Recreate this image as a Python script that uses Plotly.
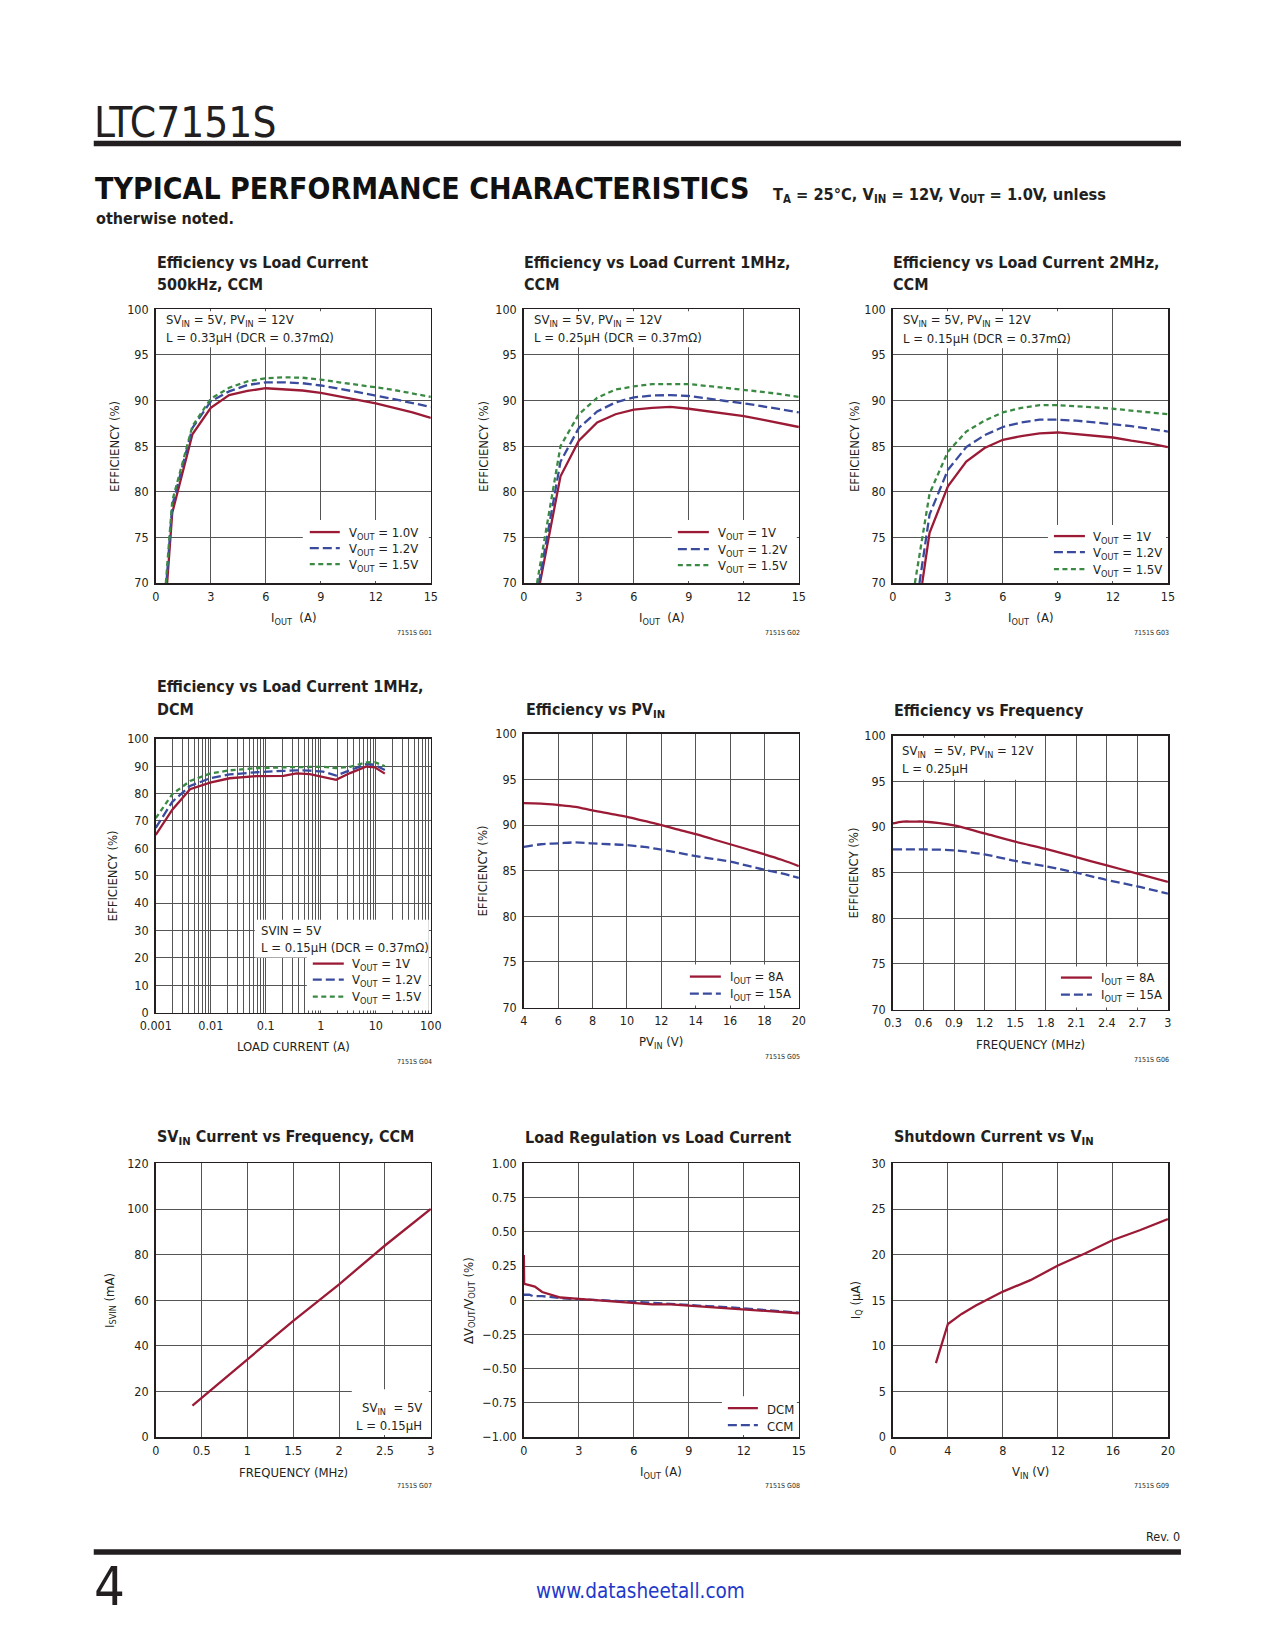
import plotly.graph_objects as go

# page is 1275x1650; default body margin of 8px is kept, figure fills the rest
PAGE_W, PAGE_H = 1275, 1650
OFF = 8
FW, FH = PAGE_W - 2 * OFF, 1630
# mapping from reference-picture pixels to page pixels (measured calibration)
KX, BX = 1.0221, -16.8
KY, BY = 1.0082, -7.5
FONT = "DejaVu Sans Condensed, Liberation Sans, sans-serif"
INK = "#231f20"
RED = "#9b1b36"
BLUE = "#3a4b9e"
GREEN = "#3b8a44"
GRID = "#555555"

# ---------------- data ----------------
g01_v10_x = [0.62, 0.9, 2, 3, 4, 5, 6, 7, 8, 9, 10, 11, 12, 13, 14, 15]
g01_v10_y = [70, 77.7, 86.3, 89.2, 90.6, 91.05, 91.35, 91.25, 91.1, 90.85, 90.45, 90.1, 89.7, 89.2, 88.7, 88.1]
g01_v12_x = [0.58, 0.9, 2, 3, 4, 5, 6, 7, 8, 9, 10, 11, 12, 13, 14, 15]
g01_v12_y = [70, 78.5, 87.0, 89.9, 91.0, 91.7, 92.0, 92.0, 91.9, 91.65, 91.3, 90.95, 90.55, 90.15, 89.75, 89.3]
g01_v15_x = [0.55, 0.9, 2, 3, 4, 5, 6, 7, 8, 9, 10, 11, 12, 13, 14, 15]
g01_v15_y = [70, 79.0, 87.2, 90.2, 91.4, 92.1, 92.45, 92.55, 92.5, 92.3, 92.0, 91.75, 91.45, 91.15, 90.8, 90.4]

g02_v10_x = [0.88, 2, 3, 4, 5, 6, 7, 8, 9, 10, 11, 12, 13, 14, 15]
g02_v10_y = [70, 81.7, 85.6, 87.6, 88.5, 89.0, 89.2, 89.3, 89.1, 88.85, 88.6, 88.3, 87.9, 87.5, 87.1]
g02_v12_x = [0.82, 2, 3, 4, 5, 6, 7, 8, 9, 10, 11, 12, 13, 14, 15]
g02_v12_y = [70, 83.3, 87.0, 88.8, 89.8, 90.35, 90.55, 90.6, 90.5, 90.2, 89.95, 89.7, 89.4, 89.05, 88.7]
g02_v15_x = [0.72, 2, 3, 4, 5, 6, 7, 8, 9, 10, 11, 12, 13, 14, 15]
g02_v15_y = [70, 85.0, 88.5, 90.3, 91.2, 91.55, 91.8, 91.8, 91.8, 91.6, 91.4, 91.15, 90.95, 90.7, 90.4]

g03_v10_x = [1.6, 2, 3, 4, 5, 6, 7, 8, 9, 10, 11, 12, 13, 14, 15]
g03_v10_y = [70, 75.5, 80.6, 83.3, 84.8, 85.7, 86.1, 86.4, 86.5, 86.3, 86.1, 85.95, 85.6, 85.3, 84.9]
g03_v12_x = [1.45, 2, 3, 4, 5, 6, 7, 8, 9, 10, 11, 12, 13, 14, 15]
g03_v12_y = [70, 77.5, 82.4, 84.9, 86.2, 87.1, 87.6, 87.9, 87.9, 87.8, 87.6, 87.4, 87.2, 86.9, 86.6]
g03_v15_x = [1.2, 2, 3, 4, 5, 6, 7, 8, 9, 10, 11, 12, 13, 14, 15]
g03_v15_y = [70, 79.8, 84.4, 86.6, 87.8, 88.7, 89.2, 89.5, 89.5, 89.4, 89.25, 89.1, 88.9, 88.7, 88.5]

g04_x = [0.001, 0.002, 0.0042, 0.0097, 0.022, 0.068, 0.21, 0.36, 0.63, 1.1, 1.9, 3.4, 6.8, 9.6, 14.6]
g04_v10_y = [64.9, 74.1, 81.6, 84.0, 85.6, 86.4, 86.5, 87.4, 87.1, 86.0, 85.0, 87.5, 89.9, 89.6, 87.3]
g04_v12_y = [67.5, 77.0, 82.8, 85.6, 87.0, 87.8, 88.3, 88.5, 88.4, 88.0, 86.6, 88.4, 90.8, 90.5, 88.6]
g04_v15_y = [71.0, 79.8, 84.6, 87.3, 88.5, 89.3, 89.6, 89.7, 89.8, 89.8, 89.3, 89.8, 91.4, 91.5, 90.0]

g05_x = [4, 5, 6, 7, 8, 9, 10, 11, 12, 13, 14, 15, 16, 17, 18, 19, 20]
g05_i8_y = [92.4, 92.35, 92.2, 92.0, 91.6, 91.25, 90.9, 90.45, 90.0, 89.5, 89.0, 88.45, 87.9, 87.35, 86.8, 86.2, 85.5]
g05_i15_y = [87.6, 87.9, 88.0, 88.1, 88.0, 87.9, 87.8, 87.6, 87.3, 86.95, 86.6, 86.3, 86.0, 85.55, 85.1, 84.7, 84.2]

g06_x = [0.3, 0.4, 0.5, 0.6, 0.9, 1.2, 1.5, 1.8, 2.1, 2.4, 2.7, 3.0]
g06_i8_y = [90.4, 90.6, 90.6, 90.6, 90.2, 89.3, 88.4, 87.6, 86.7, 85.8, 84.9, 84.0]
g06_i15_y = [87.55, 87.55, 87.55, 87.55, 87.45, 87.0, 86.3, 85.7, 85.0, 84.2, 83.5, 82.7]

g07_x = [0.4, 0.5, 1.0, 1.5, 2.0, 2.5, 3.0]
g07_y = [13.8, 17.2, 34.0, 51.0, 67.0, 84.0, 100.0]

g08_dcm_x = [0.0, 0.02, 0.3, 0.6, 1.0, 1.5, 2.0, 3.0, 4.0, 5.0, 6.0, 7.0, 8.0, 9.0, 10.0, 11.0, 12.0, 13.0, 14.0, 15.0]
g08_dcm_y = [0.33, 0.12, 0.11, 0.10, 0.06, 0.04, 0.02, 0.01, 0.0, -0.01, -0.023, -0.03, -0.03, -0.04, -0.05, -0.058, -0.067, -0.075, -0.085, -0.095]
g08_ccm_x = [0.0, 0.3, 0.5, 1.0, 2.0, 3.0, 4.0, 5.0, 6.0, 7.0, 8.0, 9.0, 10.0, 11.0, 12.0, 13.0, 14.0, 15.0]
g08_ccm_y = [0.04, 0.04, 0.03, 0.03, 0.015, 0.01, 0.0, -0.005, -0.011, -0.02, -0.028, -0.035, -0.043, -0.05, -0.06, -0.07, -0.08, -0.09]

g09_x = [3.13, 4, 5, 6, 8, 10, 12, 14, 16, 18, 20]
g09_y = [8.1, 12.4, 13.5, 14.4, 15.95, 17.2, 18.8, 20.15, 21.6, 22.7, 23.9]

# ---------------- tick labels ----------------
eff_ticks = [70, 75, 80, 85, 90, 95, 100]
iout_ticks = [0, 3, 6, 9, 12, 15]
dcm_y_ticks = [0, 10, 20, 30, 40, 50, 60, 70, 80, 90, 100]
dcm_x_ticks = [0.001, 0.01, 0.1, 1, 10, 100]
dcm_x_text = ["0.001", "0.01", "0.1", "1", "10", "100"]
pvin_ticks = [4, 6, 8, 10, 12, 14, 16, 18, 20]
freq_ticks = [0.3, 0.6, 0.9, 1.2, 1.5, 1.8, 2.1, 2.4, 2.7, 3.0]
freq_text = ["0.3", "0.6", "0.9", "1.2", "1.5", "1.8", "2.1", "2.4", "2.7", "3"]
svin_x_ticks = [0, 0.5, 1, 1.5, 2, 2.5, 3]
svin_x_text = ["0", "0.5", "1", "1.5", "2", "2.5", "3"]
svin_y_ticks = [0, 20, 40, 60, 80, 100, 120]
lr_y_ticks = [-1, -0.75, -0.5, -0.25, 0, 0.25, 0.5, 0.75, 1]
lr_y_text = ["\u22121.00", "\u22120.75", "\u22120.50", "\u22120.25", "0", "0.25", "0.50", "0.75", "1.00"]
sd_x_ticks = [0, 4, 8, 12, 16, 20]
sd_y_ticks = [0, 5, 10, 15, 20, 25, 30]


def px(x):
    return (KX * x + BX - OFF) / FW


def py(y):
    return 1 - (KY * y + BY - OFF) / FH


fig = go.Figure()
annotations = []
shapes = []
layout_axes = {}


def txt(x, y, s, size, xanchor="left", yanchor="middle", bold=False, color=INK, angle=0, family=FONT):
    annotations.append(dict(
        x=px(x), y=py(y), xref="paper", yref="paper", text=("<b>%s</b>" % s) if bold else s,
        showarrow=False, xanchor=xanchor, yanchor=yanchor, textangle=angle,
        font=dict(family=family, size=size, color=color), borderpad=0))


def rect(x0, y0, x1, y1, color="white"):
    shapes.append(dict(type="rect", xref="paper", yref="paper", x0=px(x0), x1=px(x1), y0=py(y0), y1=py(y1),
                       fillcolor=color, line=dict(width=0), layer="above"))


def hline(x0, x1, y, color, width, dash="solid"):
    shapes.append(dict(type="line", xref="paper", yref="paper", x0=px(x0), x1=px(x1), y0=py(y), y1=py(y),
                       line=dict(color=color, width=width, dash=dash), layer="above"))


def axes(i, box, xrange, xvals, xtext, yrange, yvals, ytext, xtype="linear", xminor=None):
    x0, x1, y0, y1 = box
    common = dict(showline=True, mirror=True, linecolor=INK, linewidth=1.6, showgrid=True, gridcolor=GRID,
                  gridwidth=1, zeroline=False, ticks="", fixedrange=True,
                  tickfont=dict(family=FONT, size=12.5, color=INK), tickmode="array")
    xk = "xaxis" if i == 1 else "xaxis%d" % i
    yk = "yaxis" if i == 1 else "yaxis%d" % i
    xa = dict(domain=[px(x0), px(x1)], range=xrange, tickvals=xvals, ticktext=xtext, type=xtype,
              anchor="y" if i == 1 else "y%d" % i, ticklabelstandoff=1, **common)
    if xminor is not None:
        xa["minor"] = dict(tickmode="array", tickvals=xminor, showgrid=True, gridcolor=GRID, gridwidth=1, ticks="")
    layout_axes[xk] = xa
    layout_axes[yk] = dict(domain=[py(y1), py(y0)], range=yrange, tickvals=yvals, ticktext=ytext,
                           anchor="x" if i == 1 else "x%d" % i, ticklabelstandoff=3, **common)


def line(i, x, y, color, dash="solid", shape="linear", width=2.3):
    fig.add_trace(go.Scatter(x=x, y=y, mode="lines", line=dict(color=color, width=width, dash=dash, shape=shape),
                             xaxis="x" if i == 1 else "x%d" % i, yaxis="y" if i == 1 else "y%d" % i,
                             showlegend=False, hoverinfo="skip"))


DASH_B = "9px,4px"
DASH_G = "5px,3.5px"
LT = 13


def legend_item(x0, x1, y, color, dash, label, tx):
    hline(x0, x1, y, color, 2.3, dash)
    txt(tx, y + 1, label, LT)


C = [(156, 431), (524, 799), (893, 1168)]
B1 = [(C[0][0], C[0][1], 309, 583), (C[1][0], C[1][1], 309, 583), (C[2][0], C[2][1], 309, 583)]
B2 = [(C[0][0], C[0][1], 739, 1013), (C[1][0], C[1][1], 734, 1008), (C[2][0], C[2][1], 736, 1010)]
B3 = [(C[0][0], C[0][1], 1164, 1438), (C[1][0], C[1][1], 1164, 1438), (C[2][0], C[2][1], 1164, 1438)]

VO = "V<sub>OUT</sub>"
IO = "I<sub>OUT</sub>"

axes(1, B1[0], [0, 15], iout_ticks, [str(v) for v in iout_ticks], [70, 100], eff_ticks, [str(v) for v in eff_ticks])
line(1, g01_v10_x, g01_v10_y, RED)
line(1, g01_v12_x, g01_v12_y, BLUE, DASH_B)
line(1, g01_v15_x, g01_v15_y, GREEN, DASH_G)
axes(2, B1[1], [0, 15], iout_ticks, [str(v) for v in iout_ticks], [70, 100], eff_ticks, [str(v) for v in eff_ticks])
line(2, g02_v10_x, g02_v10_y, RED)
line(2, g02_v12_x, g02_v12_y, BLUE, DASH_B)
line(2, g02_v15_x, g02_v15_y, GREEN, DASH_G)
axes(3, B1[2], [0, 15], iout_ticks, [str(v) for v in iout_ticks], [70, 100], eff_ticks, [str(v) for v in eff_ticks])
line(3, g03_v10_x, g03_v10_y, RED)
line(3, g03_v12_x, g03_v12_y, BLUE, DASH_B)
line(3, g03_v15_x, g03_v15_y, GREEN, DASH_G)
minor_vals = [m * d for d in [0.001, 0.01, 0.1, 1, 10] for m in [2, 3, 4, 5, 6, 7, 8, 9]]
axes(4, B2[0], [-3, 2], dcm_x_ticks, dcm_x_text, [0, 100], dcm_y_ticks, [str(v) for v in dcm_y_ticks],
     xtype="log", xminor=minor_vals)
line(4, g04_x, g04_v10_y, RED)
line(4, g04_x, g04_v12_y, BLUE, DASH_B)
line(4, g04_x, g04_v15_y, GREEN, DASH_G)
axes(5, B2[1], [4, 20], pvin_ticks, [str(v) for v in pvin_ticks], [70, 100], eff_ticks, [str(v) for v in eff_ticks])
line(5, g05_x, g05_i8_y, RED, shape="spline")
line(5, g05_x, g05_i15_y, BLUE, DASH_B, shape="spline")
axes(6, B2[2], [0.3, 3.0], freq_ticks, freq_text, [70, 100], eff_ticks, [str(v) for v in eff_ticks])
line(6, g06_x, g06_i8_y, RED, shape="spline")
line(6, g06_x, g06_i15_y, BLUE, DASH_B, shape="spline")
axes(7, B3[0], [0, 3], svin_x_ticks, svin_x_text, [0, 120], svin_y_ticks, [str(v) for v in svin_y_ticks])
line(7, g07_x, g07_y, RED)
axes(8, B3[1], [0, 15], iout_ticks, [str(v) for v in iout_ticks], [-1, 1], lr_y_ticks, lr_y_text)
line(8, g08_ccm_x, g08_ccm_y, BLUE, DASH_B)
line(8, g08_dcm_x, g08_dcm_y, RED)
axes(9, B3[2], [0, 20], sd_x_ticks, [str(v) for v in sd_x_ticks], [0, 30], sd_y_ticks, [str(v) for v in sd_y_ticks])
line(9, g09_x, g09_y, RED)

# white boxes behind notes / legends
rect(158, 311, 330, 347)
rect(303, 520, 429, 581)
rect(526, 311, 698, 347)
rect(672, 520, 797, 581)
rect(895, 311, 1068, 348)
rect(1048, 525, 1166, 581)
rect(255, 920, 429, 958)
rect(307, 957, 429, 1011)
rect(684, 965, 797, 1006)
rect(895, 738, 1030, 780)
rect(1054, 967, 1166, 1008)
rect(352, 1390, 429, 1436)
rect(722, 1397, 797, 1436)

NT = 13
SV = "SV<sub>IN</sub> = 5V, PV<sub>IN</sub> = 12V"
txt(165, 320, SV, NT)
txt(165, 337, "L = 0.33\u00b5H (DCR = 0.37m\u03a9)", NT)
legend_item(310, 340, 532, RED, "solid", VO + " = 1.0V", 348)
legend_item(310, 340, 548, BLUE, DASH_B, VO + " = 1.2V", 348)
legend_item(310, 340, 564, GREEN, DASH_G, VO + " = 1.5V", 348)

txt(533, 320, SV, NT)
txt(533, 337, "L = 0.25\u00b5H (DCR = 0.37m\u03a9)", NT)
legend_item(678, 709, 532, RED, "solid", VO + " = 1V", 717)
legend_item(678, 709, 549, BLUE, DASH_B, VO + " = 1.2V", 717)
legend_item(678, 709, 565, GREEN, DASH_G, VO + " = 1.5V", 717)

txt(902, 320, SV, NT)
txt(902, 338, "L = 0.15\u00b5H (DCR = 0.37m\u03a9)", NT)
legend_item(1054, 1085, 536, RED, "solid", VO + " = 1V", 1092)
legend_item(1054, 1085, 552, BLUE, DASH_B, VO + " = 1.2V", 1092)
legend_item(1054, 1085, 569, GREEN, DASH_G, VO + " = 1.5V", 1092)

txt(260, 931, "SVIN = 5V", NT)
txt(260, 948, "L = 0.15\u00b5H (DCR = 0.37m\u03a9)", NT)
legend_item(313, 344, 964, RED, "solid", VO + " = 1V", 351)
legend_item(313, 344, 980, BLUE, DASH_B, VO + " = 1.2V", 351)
legend_item(313, 344, 997, GREEN, DASH_G, VO + " = 1.5V", 351)

legend_item(690, 721, 977, RED, "solid", IO + " = 8A", 729)
legend_item(690, 721, 994, BLUE, DASH_B, IO + " = 15A", 729)

txt(901, 752, "SV<sub>IN</sub>  = 5V, PV<sub>IN</sub> = 12V", NT)
txt(901, 769, "L = 0.25\u00b5H", NT)
legend_item(1061, 1092, 978, RED, "solid", IO + " = 8A", 1100)
legend_item(1061, 1092, 995, BLUE, DASH_B, IO + " = 15A", 1100)

txt(423, 1409, "SV<sub>IN</sub>  = 5V", NT, xanchor="right")
txt(423, 1426, "L = 0.15\u00b5H", NT, xanchor="right")

legend_item(728, 758, 1409, RED, "solid", "DCM", 766)
legend_item(728, 758, 1426, BLUE, DASH_B, "CCM", 766)

TS = 16
txt(156, 262, "Efficiency vs Load Current", TS, bold=True)
txt(156, 284, "500kHz, CCM", TS, bold=True)
txt(523, 262, "Efficiency vs Load Current 1MHz,", TS, bold=True)
txt(523, 284, "CCM", TS, bold=True)
txt(892, 262, "Efficiency vs Load Current 2MHz,", TS, bold=True)
txt(892, 284, "CCM", TS, bold=True)
txt(156, 687, "Efficiency vs Load Current 1MHz,", TS, bold=True)
txt(156, 710, "DCM", TS, bold=True)
txt(525, 711, "Efficiency vs PV<sub>IN</sub>", TS, bold=True)
txt(893, 711, "Efficiency vs Frequency", TS, bold=True)
txt(156, 1138, "SV<sub>IN</sub> Current vs Frequency, CCM", TS, bold=True)
txt(524, 1138, "Load Regulation vs Load Current", TS, bold=True)
txt(893, 1138, "Shutdown Current vs V<sub>IN</sub>", TS, bold=True)

AT = 13
for (x0, x1, y0, y1), ytx, xt, yt, xlab, ylab in [
    (B1[0], 114, 619, 446, IO + "  (A)", "EFFICIENCY (%)"),
    (B1[1], 483, 619, 446, IO + "  (A)", "EFFICIENCY (%)"),
    (B1[2], 854, 619, 446, IO + "  (A)", "EFFICIENCY (%)"),
    (B2[0], 113, 1047, 876, "LOAD CURRENT (A)", "EFFICIENCY (%)"),
    (B2[1], 483, 1043, 871, "PV<sub>IN</sub> (V)", "EFFICIENCY (%)"),
    (B2[2], 854, 1045, 873, "FREQUENCY (MHz)", "EFFICIENCY (%)"),
    (B3[0], 110, 1473, 1301, "FREQUENCY (MHz)", "I<sub>SVIN</sub> (mA)"),
    (B3[1], 469, 1473, 1301, IO + " (A)", "\u0394V<sub>OUT</sub>/V<sub>OUT</sub> (%)"),
    (B3[2], 856, 1473, 1301, "V<sub>IN</sub> (V)", "I<sub>Q</sub> (\u00b5A)"),
]:
    txt((x0 + x1) / 2, xt, xlab, AT, xanchor="center")
    txt(ytx, yt, ylab, AT, xanchor="center", angle=-90)

for (x0, x1, y0, y1), yc, code in [
    (B1[0], 633, "7151S G01"), (B1[1], 633, "7151S G02"), (B1[2], 633, "7151S G03"),
    (B2[0], 1063, "7151S G04"), (B2[1], 1057, "7151S G05"), (B2[2], 1060, "7151S G06"),
    (B3[0], 1487, "7151S G07"), (B3[1], 1487, "7151S G08"), (B3[2], 1487, "7151S G09"),
]:
    txt(x1 + 2, yc, code, 7, xanchor="right")

txt(93, 122, "LTC7151S", 42)
hline(94, 1181, 143, INK, 5.5)
txt(94, 188, "TYPICAL PERFORMANCE CHARACTERISTICS", 30, bold=True, color="#111111")
txt(772, 195, "T<sub>A</sub> = 25\u00b0C, V<sub>IN</sub> = 12V, V<sub>OUT</sub> = 1.0V, unless", 16.3, bold=True)
txt(95, 218, "otherwise noted.", 16, bold=True)
hline(94, 1181, 1553, INK, 5.5)
txt(93, 1588, "4", 54)
txt(641, 1592, "www.datasheetall.com", 20.5, xanchor="center", color="#2239c9")
txt(1181, 1538, "Rev. 0", 12.5, xanchor="right")

fig.update_layout(
    width=FW, height=FH, autosize=False,
    margin=dict(l=0, r=0, t=0, b=0),
    paper_bgcolor="white", plot_bgcolor="white",
    showlegend=False,
    annotations=annotations, shapes=shapes,
    font=dict(family=FONT, color=INK),
    **layout_axes,
)

fig.write_html("out.html", config={"displayModeBar": False, "staticPlot": True})
